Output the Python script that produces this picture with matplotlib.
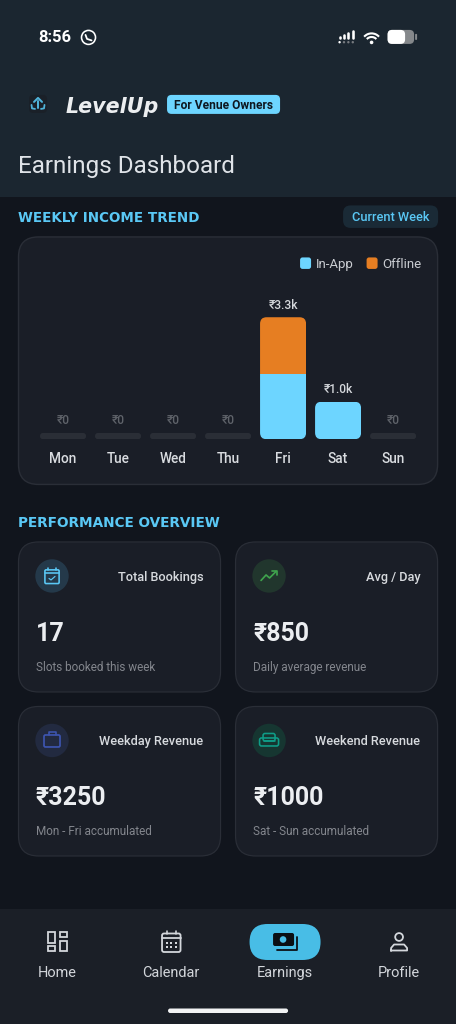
import matplotlib
matplotlib.use("Agg")
import matplotlib.pyplot as plt
from matplotlib.patches import FancyBboxPatch, Circle, Rectangle, Arc
from matplotlib.transforms import IdentityTransform

days = ["Mon", "Tue", "Wed", "Thu", "Fri", "Sat", "Sun"]
in_app = [0, 0, 0, 0, 1750, 1000, 0]
offline = [0, 0, 0, 0, 1500, 0, 0]
bar_labels = ["₹0", "₹0", "₹0", "₹0", "₹3.3k", "₹1.0k", "₹0"]
legend_names = ["In-App", "Offline"]
card_titles = ["Total Bookings", "Avg / Day", "Weekday Revenue", "Weekend Revenue"]
card_values = ["17", "₹850", "₹3250", "₹1000"]
card_notes = ["Slots booked this week", "Daily average revenue",
              "Mon - Fri accumulated", "Sat - Sun accumulated"]
nav_names = ["Home", "Calendar", "Earnings", "Profile"]

BG = "#11151d"; HEAD = "#1b2630"; CARD = "#1a1e27"; EDGE = "#2a2e37"
BLUE = "#6dd5ff"; ORANGE = "#e67e22"; TXT = "#e4e6eb"
FONT = ["Roboto", "DejaVu Sans"]
plt.rcParams["font.family"] = FONT

fig = plt.figure(figsize=(4.561, 10.241), dpi=100, facecolor=BG)
bgax = fig.add_axes([0, 0, 1, 1])
bgax.set_xlim(0, 456); bgax.set_ylim(1024, 0); bgax.axis("off")

def px(p):
    return p * 72 / 100

def rr(x0, y0, x1, y1, r, fc, ec="none", lw=0, z=1, ax=bgax):
    p = FancyBboxPatch((x0 + r, y0 + r), x1 - x0 - 2 * r, y1 - y0 - 2 * r,
                       boxstyle=f"round,pad={r},rounding_size={r}",
                       fc=fc, ec=ec, lw=lw, zorder=z, mutation_aspect=1)
    ax.add_patch(p)
    return p

def T(x, y, s, size, color=TXT, ha="left", weight="normal", **kw):
    return bgax.text(x, y, s, fontsize=px(size), color=color, ha=ha, va="center",
                     fontweight=weight, zorder=6, **kw)

def L(xs, ys, color, lw=1.5, z=5):
    bgax.plot(xs, ys, color=color, lw=px(lw), zorder=z, solid_capstyle="round",
              solid_joinstyle="round")

# header and nav regions
bgax.add_patch(Rectangle((0, 0), 456, 197, fc=HEAD, ec="none", zorder=0))
bgax.add_patch(Rectangle((0, 909), 456, 115, fc="#1b1f27", ec="none", zorder=0))

# status bar
T(38.7, 37, "8:56", 16.5, "#ffffff", weight="bold")
bgax.add_patch(Circle((88.5, 37.5), 7, fc="none", ec="white", lw=px(1.6), zorder=5))
L([85.5, 87, 91.5], [35, 39, 40.5], "white", 1.8)
for i, h in enumerate([3, 5, 7, 9]):
    L([339.5 + i * 4.4] * 2, [38, 38 - h + 2], "white", 2.6)
    bgax.add_patch(Circle((339.5 + i * 4.4, 42.3), 1.2,
                          fc="white" if i == 0 else "#777b80", ec="none", zorder=5))
for r, w in [(10, 2.1), (6.4, 2.1)]:
    bgax.add_patch(Arc((371.5, 43.5), 2 * r, 2 * r, theta1=222, theta2=318, ec="white",
                       lw=px(w), zorder=5))
bgax.add_patch(Circle((371.5, 42.5), 1.8, fc="white", ec="none", zorder=5))
rr(387.5, 30, 414, 44, 4.5, "#85888b", z=4)
rr(387.5, 30, 405, 44, 4.5, "white", z=5)
rr(415, 34, 417, 40, .8, "#85888b", z=4)

# logo
rr(29, 95, 47, 113, 4, "#1a2028", z=2)
L([34, 38, 42], [102, 98, 102], "#4fb3d9", 2.0)
L([38, 38], [101, 108], "#4fb3d9", 2.0)
L([31.5, 32, 35], [105, 108.5, 109], "#4fb3d9", 1.8)
L([44.5, 44, 41], [105, 108.5, 109], "#4fb3d9", 1.8)
T(65.5, 106.5, "LevelUp", 20.6, "#eceef0", weight="bold", style="italic", family=["DejaVu Sans"])
rr(167, 95, 280, 114, 4.5, BLUE, z=2)
T(223.5, 105, "For Venue Owners", 12, "#0e1720", ha="center", weight="bold")
T(18, 166.5, "Earnings Dashboard", 24.3, "#dfe3e8", weight="normal")

# section headings
T(18, 217.5, "WEEKLY INCOME TREND", 13.5, "#5ac8f5", weight="black", family=["DejaVu Sans"])
rr(343, 205.5, 438, 228, 7.5, "#1a2a36", z=2)
T(390.5, 217, "Current Week", 12.8, "#5ac8f5", ha="center", weight="medium")
T(18, 522.5, "PERFORMANCE OVERVIEW", 13.65, "#5ac8f5", weight="black", family=["DejaVu Sans"])

# chart card
rr(18.5, 237, 437.5, 484.5, 20, CARD, EDGE, px(1.4), z=1)
rr(300, 257.5, 311, 269, 2.5, BLUE, z=3)
T(316, 264, legend_names[0], 13.3, "#c9ccd1")
rr(366.5, 257.5, 377.5, 269, 2.5, ORANGE, z=3)
T(382, 264, legend_names[1], 13.3, "#c9ccd1")

# chart axes: baseline at y=439.3 px, 3250 at y=317.3 px
W, H = 456.0, 1024.0
ax = fig.add_axes([35.5 / W, 1 - 439.3 / H, 385 / W, 122 / H])
ax.set_xlim(-0.5, 6.5); ax.set_ylim(0, 3250); ax.axis("off"); ax.patch.set_alpha(0)
BAR_W = 46 / 55
TRACK = 6.3 * 3250 / 122  # height of the empty-day track, in axis units
fig.canvas.draw()
for i, d in enumerate(days):
    total = in_app[i] + offline[i]
    if total == 0:
        b = ax.bar(i, TRACK, BAR_W, color="#2a2e36", zorder=2)
        radius = 3
        rects = list(b)
        top = TRACK
    else:
        b1 = ax.bar(i, in_app[i], BAR_W, color=BLUE, zorder=2)
        b2 = ax.bar(i, offline[i], BAR_W, bottom=in_app[i], color=ORANGE, zorder=2)
        radius = 6.5
        rects = list(b1) + list(b2)
        top = total
    (x0, y0), (x1, y1) = ax.transData.transform([(i - BAR_W / 2, 0), (i + BAR_W / 2, top)])
    clip = FancyBboxPatch((x0 + radius, y0 + radius), x1 - x0 - 2 * radius, y1 - y0 - 2 * radius,
                          boxstyle=f"round,pad={radius},rounding_size={radius}",
                          transform=IdentityTransform())
    for r in rects:
        r.set_clip_path(clip)
    gap = 13 if total == 0 else 12
    colr = "#5f636a" if total == 0 else "#d5d8dc"
    ax.annotate(bar_labels[i], (i, top), xytext=(0, px(gap)), textcoords="offset points",
                ha="center", va="center", fontsize=px(12), color=colr,
                fontweight="medium", annotation_clip=False)
    ax.annotate(d, (i, 0), xytext=(0, -px(19.3)), textcoords="offset points", ha="center",
                va="center", fontsize=px(13.6), color="#d9dce0", fontweight="medium",
                annotation_clip=False)

# KPI cards
cards = [(18.5, 542, 220.5, 692), (235.5, 542, 437.5, 692),
         (18.5, 706.5, 220.5, 856), (235.5, 706.5, 437.5, 856)]
tints = ["#24394a", "#21362d", "#222a40", "#163631"]
for k, (x0, y0, x1, y1) in enumerate(cards):
    rr(x0, y0, x1, y1, 20, CARD, EDGE, px(1.2), z=1)
    cx, cy = x0 + 33.5, y0 + 34
    bgax.add_patch(Circle((cx, cy), 16.7, fc=tints[k], ec="none", zorder=2))
    T(x1 - 17.2, y0 + 35, card_titles[k], 12.8, "#d7dade", ha="right", weight="medium")
    T(x0 + 17.5, y0 + 91.8, card_values[k], 25, "#eceef1", weight="bold")
    T(x0 + 17.5, y0 + 125.3, card_notes[k], 11.7, "#83868d")

# KPI icons
cx, cy = 52, 576
c = "#5ac8f5"
bgax.add_patch(FancyBboxPatch((cx - 6.5, cy - 5.5), 13, 12.5, boxstyle="round,pad=0.6,rounding_size=1.2",
                              fc="none", ec=c, lw=px(1.6), zorder=5))
L([cx - 7, cx + 7], [cy - 2.5, cy - 2.5], c, 1.6)
L([cx - 4, cx - 4], [cy - 8, cy - 6], c, 1.6); L([cx + 4, cx + 4], [cy - 8, cy - 6], c, 1.6)
L([cx - 3, cx - 1, cx + 3], [cy + 2.5, cy + 4, cy + 0.5], c, 1.2)
cx, cy = 269, 576
c = "#3fa34d"
L([cx - 8, cx - 3, cx + 0.5, cx + 7], [cy + 4.5, cy - 1, cy + 2, cy - 4.5], c, 1.7)
L([cx + 3, cx + 7.5, cx + 7.5], [cy - 5, cy - 5, cy - 0.5], c, 1.7)
cx, cy = 52, 740
c = "#3d55b0"
rr(cx - 8, cy - 5, cx + 8, cy + 7, 1.5, "none", c, px(1.7), z=5)
L([cx - 3.5, cx - 3.5, cx + 3.5, cx + 3.5], [cy - 5, cy - 8, cy - 8, cy - 5], c, 1.6)
cx, cy = 269, 740
c = "#0f9d88"
rr(cx - 6, cy - 6.5, cx + 6, cy + 1, 2, "none", c, px(1.6), z=5)
rr(cx - 9.5, cy - 2, cx + 9.5, cy + 6, 2, "none", c, px(1.6), z=5)
L([cx - 5.5, cx + 5.5], [cy + 1.5, cy + 1.5], c, 1.6)

# nav bar
ink = "#d4d7dc"
nav_x = [57, 171, 285, 399]
for n, x in zip(nav_names, nav_x):
    T(x, 973.3, n, 14.5, "#d3d6db", ha="center", weight="normal")
# home
for a, b, c_, d_ in [(47.5, 932.5, 55, 943), (60, 932.5, 66.5, 937.5),
                     (47.5, 946.5, 55, 951), (60, 941.5, 66.5, 951)]:
    bgax.add_patch(Rectangle((a, b), c_ - a, d_ - b, fc="none", ec=ink, lw=px(1.8), zorder=5))
# calendar
rr(162, 933.5, 180.5, 952, 2, "none", ink, px(1.8), z=5)
L([162, 180.5], [938.5, 938.5], ink, 1.8)
L([166.5, 166.5], [931.5, 934], ink, 1.6); L([176, 176], [931.5, 934], ink, 1.6)
for yy in (943, 947.5):
    for xx in (166.5, 171.2, 176):
        bgax.add_patch(Rectangle((xx - 1, yy - 1), 2, 2, fc=ink, ec="none", zorder=5))
# earnings
rr(249.5, 924, 320.5, 960, 18, "#48bde6", z=2)
rr(273, 933, 294, 946, 2, "#0b0f14", z=5)
bgax.add_patch(Circle((283, 939.5), 3.3, fc="#48bde6", ec="none", zorder=6))
L([296.5, 296.5, 277], [937, 950, 950], "#0b0f14", 1.8)
# profile: head and shoulders
bgax.add_patch(Circle((399, 937), 3.9, fc="none", ec=ink, lw=px(1.8), zorder=5))
bgax.plot([391, 391, 394, 404, 407, 407, 391], [950.5, 948, 944.5, 944.5, 948, 950.5, 950.5],
          color=ink, lw=px(1.8), zorder=5, solid_joinstyle="round")
# home indicator
rr(168, 1008.5, 288, 1013, 2.2, "#f2f3f4", z=3)

fig.savefig("out.png", dpi=100, facecolor=BG)
